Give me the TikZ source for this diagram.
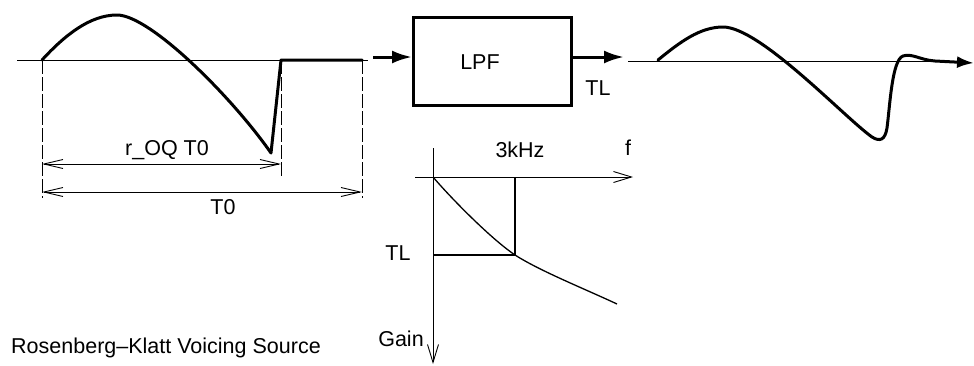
\documentclass[tikz,border=0pt]{standalone}
\usepackage{fontspec}
\setmainfont{Liberation Sans}
\usetikzlibrary{arrows.meta}
\begin{document}
\begin{tikzpicture}[x=1pt,y=-1pt,
  thinline/.style={line width=0.9pt},
  wave/.style={line width=3pt, line join=round, line cap=round},
  dimline/.style={line width=0.9pt, dash pattern=on 14pt off 3pt},
  dimarrow/.style={line width=0.9pt, {Straight Barb[length=19pt,width=9pt]}-{Straight Barb[length=19pt,width=9pt]}},
  axisarrow/.style={line width=0.9pt, -{Straight Barb[length=18pt,width=11pt]}},
  bigarrow/.style={line width=3pt, -{Latex[length=20pt,width=13pt]}},
  lbl/.style={font=\fontsize{21.5}{25}\selectfont, inner sep=0pt},
  blockbox/.style={draw, line width=3pt, minimum width=158pt, minimum height=88pt, inner sep=0pt}
]
\useasboundingbox (0,0) rectangle (974,365);

% ---------- left: Rosenberg-Klatt source ----------
\coordinate (bl0) at (17,60);
\coordinate (bl1) at (368,60);
\draw[thinline] (bl0) -- (bl1);

\coordinate (s0) at (42,60);
\coordinate (s1) at (281,60);
\coordinate (s2) at (362,60);
\draw[wave] (s0) .. controls (65,35) and (90,15) .. (117,15)
  .. controls (150,15) and (232,97) .. (271,153) -- (s1) -- (s2);

\coordinate (d0) at (42,198);
\coordinate (d1) at (281,176);
\coordinate (d2) at (362,198);
\draw[dimline] (s0) -- (d0);
\draw[dimline] (s1) -- (d1);
\draw[dimline] (s2) -- (d2);

\coordinate (r0) at (42,164);
\coordinate (r1) at (281,164);
\coordinate (t0) at (42,192);
\coordinate (t1) at (362,192);
\draw[dimarrow] (r0) -- (r1);
\draw[dimarrow] (t0) -- (t1);

\node[lbl] (roq) at (167,150) {r\_OQ T0};
\node[lbl] (tlab) at (223,207) {T0};

\node[lbl] (title) at (166,348) {Rosenberg–Klatt Voicing Source};

% ---------- LPF block ----------
\node[blockbox] (lpf) at (492.5,61.5) {};
\node[lbl] (lpft) at (480,62) {LPF};
\coordinate (in) at (373,57);
\draw[bigarrow] (in) -- (lpf.west |- in);
\coordinate (out) at (624,57);
\draw[bigarrow] (lpf.east |- out) -- (out);
\node[lbl] (tl1) at (598,88) {TL};

% ---------- right: output waveform ----------
\coordinate (rb0) at (628,61);
\coordinate (rb1) at (955,61);
\draw[thinline] (rb0) -- (rb1);
\coordinate (w0) at (658,60);
\coordinate (w1) at (974,63);
\draw[wave, -{Latex[length=17pt,width=12pt]}] (w0)
  .. controls (680,42) and (700,27) .. (723,27)
  .. controls (760,27) and (845,118) .. (872,137)
  .. controls (880,142) and (885,140) .. (887,128)
  .. controls (890,105) and (892,60) .. (903,56)
  .. controls (912,53) and (920,60) .. (935,61)
  -- (w1);

% ---------- frequency response ----------
\coordinate (fa0) at (415,177);
\coordinate (fa1) at (633,177);
\coordinate (ga0) at (433,148);
\coordinate (ga1) at (433,364);
\draw[axisarrow] (fa0) -- (fa1);
\draw[axisarrow] (ga0) -- (ga1);

\coordinate (k0) at (515,177);
\coordinate (k1) at (515,255);
\coordinate (k2) at (433,255);
\draw[line width=1.2pt] (k0) -- (k1) -- (k2);
\coordinate (c0) at (433,177);
\coordinate (c1) at (617,304);
\draw[line width=1.3pt] (c0) .. controls (450,197) and (490,238) .. (k1)
  .. controls (540,271) and (585,289) .. (c1);

\node[lbl] (khz) at (520,150) {3kHz};
\node[lbl] (fl) at (628,148) {f};
\node[lbl] (tl2) at (398,253) {TL};
\node[lbl] (gain) at (401,339) {Gain};
\end{tikzpicture}
\end{document}
